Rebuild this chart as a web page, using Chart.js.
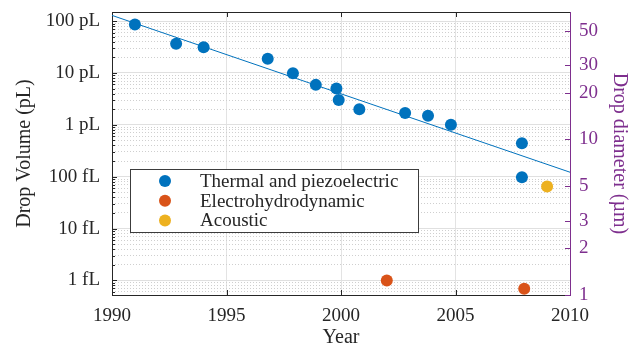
<!DOCTYPE html>
<html>
<head>
<meta charset="utf-8">
<script src="https://cdn.jsdelivr.net/npm/chart.js@4"></script>
<style>
  html, body { margin: 0; padding: 0; background: #fff; }
  #wrap { width: 629px; height: 345px; }
</style>
</head>
<body>
<div id="wrap"><canvas id="myChart"></canvas></div>
<script>
// drop volumes are in fL (1 pL = 1000 fL)
let thermalYears = [1991.0, 1992.8, 1994.0, 1996.8, 1997.9, 1998.9, 1999.8, 1999.9, 2000.8, 2002.8, 2003.8, 2004.8, 2007.9, 2007.9];
let thermalVolumes = [86000, 36600, 31500, 18800, 9900, 5900, 5000, 3000, 2000, 1700, 1500, 1000, 440, 98];
let ehdYears = [2002.0, 2008.0];
let ehdVolumes = [1.0, 0.69];
let acousticYears = [2009.0];
let acousticVolumes = [65];
let trendYears = [1990, 2010];
let trendVolumes = [129000, 122];

let volumeTicks = [1, 10, 100, 1000, 10000, 100000];
let volumeLabels = ['1 fL', '10 fL', '100 fL', '1 pL', '10 pL', '100 pL'];
let diameterTicks = [1, 2, 3, 5, 10, 20, 30, 50];
let yearTicks = [1990, 1995, 2000, 2005, 2010];

const volMin = Math.PI / 6;       // 1 µm drop
const volMax = 150000;            // 150 pL
const diaMax = Math.cbrt(6 * volMax / Math.PI);

const blue = '#0072BD', orange = '#D95319', yellow = '#EDB120';
const purple = '#7E2F8E', dark = '#262626';
const serif = "'Liberation Serif', 'DejaVu Serif', serif";

const pts = (xs, ys) => xs.map((x, i) => ({x: x, y: ys[i]}));

// minor log positions 2..9 per decade
let minorTicks = [];
for (let d = -1; d <= 5; d++) {
    for (let m = 2; m <= 9; m++) {
        let v = m * Math.pow(10, d);
        if (v > volMin && v < volMax) minorTicks.push(v);
    }
}

// no extra room for half tick labels, the axis boxes are sized by hand
const fitV = w => s => { s.width = w; s.paddingTop = 0; s.paddingBottom = 0; };

const innerTicks = {
    id: 'innerTicks',
    afterDatasetsDraw(chart) {
        const {ctx, chartArea: a, scales} = chart;
        const px = v => Math.round(v) + 0.5;
        ctx.save();
        ctx.lineWidth = 1;
        ctx.strokeStyle = dark;
        ctx.beginPath();
        ctx.moveTo(a.left, px(a.top));
        ctx.lineTo(a.right, px(a.top));
        yearTicks.slice(1, -1).forEach(v => {
            let x = px(scales.x.getPixelForValue(v));
            ctx.moveTo(x, a.bottom); ctx.lineTo(x, a.bottom - 5);
            ctx.moveTo(x, a.top); ctx.lineTo(x, a.top + 5);
        });
        volumeTicks.forEach(v => {
            let y = px(scales.y.getPixelForValue(v));
            ctx.moveTo(a.left, y); ctx.lineTo(a.left + 5, y);
        });
        minorTicks.forEach(v => {
            let y = px(scales.y.getPixelForValue(v));
            ctx.moveTo(a.left, y); ctx.lineTo(a.left + 3, y);
        });
        ctx.stroke();
        ctx.strokeStyle = purple;
        ctx.beginPath();
        diameterTicks.forEach(v => {
            let y = px(scales.y2.getPixelForValue(v));
            ctx.moveTo(a.right, y); ctx.lineTo(a.right - 5, y);
        });
        ctx.stroke();
        ctx.restore();
    }
};

const boxLegend = {
    id: 'boxLegend',
    afterDraw(chart) {
        const {ctx, chartArea: a} = chart;
        const left = a.left + 18, top = 169, w = 288, h = 63;
        ctx.save();
        ctx.fillStyle = '#fff';
        ctx.fillRect(left, top, w, h);
        ctx.strokeStyle = '#3c3c3c';
        ctx.lineWidth = 1;
        ctx.strokeRect(left + 0.5, top + 0.5, w, h);
        ctx.font = '19px ' + serif;
        ctx.textBaseline = 'middle';
        chart.data.datasets.filter(ds => ds.inLegend).forEach((ds, i) => {
            let y = top + 12 + i * 19.7;
            ctx.fillStyle = ds.backgroundColor;
            ctx.beginPath();
            ctx.arc(left + 35, y, 6, 0, 2 * Math.PI);
            ctx.fill();
            ctx.fillStyle = dark;
            ctx.fillText(ds.label, left + 70, y + 1);
        });
        ctx.restore();
    }
};

const ctx = document.getElementById('myChart').getContext('2d');
const chart = new Chart(ctx, {
    type: 'scatter',
    data: {
        datasets: [
            {
                type: 'line',
                label: 'trend',
                data: pts(trendYears, trendVolumes),
                borderColor: blue,
                borderWidth: 1,
                pointRadius: 0,
                fill: false,
                yAxisID: 'y',
                order: 5
            },
            {
                label: 'Thermal and piezoelectric',
                inLegend: true,
                data: pts(thermalYears, thermalVolumes),
                backgroundColor: blue,
                borderWidth: 0,
                pointRadius: 6,
                yAxisID: 'y'
            },
            {
                label: 'Electrohydrodynamic',
                inLegend: true,
                data: pts(ehdYears, ehdVolumes),
                backgroundColor: orange,
                borderWidth: 0,
                pointRadius: 6,
                yAxisID: 'y'
            },
            {
                label: 'Acoustic',
                inLegend: true,
                data: pts(acousticYears, acousticVolumes),
                backgroundColor: yellow,
                borderWidth: 0,
                pointRadius: 6,
                yAxisID: 'y'
            }
        ]
    },
    options: {
        responsive: true,
        maintainAspectRatio: false,
        animation: false,
        layout: {padding: {top: 12, left: 0, right: 0, bottom: 0}},
        plugins: {
            legend: {display: false},
            tooltip: {enabled: false}
        },
        scales: {
            x: {
                type: 'linear',
                min: 1990,
                max: 2010,
                afterBuildTicks: s => { s.ticks = yearTicks.map(v => ({value: v})); },
                afterFit: s => { s.height = 50; s.paddingLeft = 0; s.paddingRight = 0; },
                ticks: {
                    color: dark,
                    font: {family: serif, size: 19},
                    padding: 10,
                    maxRotation: 0,
                    callback: v => String(v)
                },
                grid: {color: '#e3e3e3', drawTicks: false},
                border: {color: dark},
                title: {
                    display: true,
                    text: 'Year',
                    color: dark,
                    font: {family: serif, size: 20},
                    padding: {top: 0, bottom: -5}
                }
            },
            y: {
                type: 'logarithmic',
                position: 'left',
                min: volMin,
                max: volMax,
                afterBuildTicks: s => { s.ticks = volumeTicks.map(v => ({value: v})); },
                afterFit: fitV(112),
                ticks: {
                    color: dark,
                    autoSkip: false,
                    font: {family: serif, size: 19},
                    padding: 12,
                    callback: v => volumeLabels[volumeTicks.indexOf(v)]
                },
                grid: {color: '#e0e0e0', drawTicks: false, z: 0},
                border: {color: dark},
                title: {
                    display: true,
                    text: 'Drop Volume (pL)',
                    color: dark,
                    font: {family: serif, size: 20},
                    padding: {top: 13, bottom: 0}
                }
            },
            yMinor: {
                type: 'logarithmic',
                position: 'left',
                min: volMin,
                max: volMax,
                afterBuildTicks: s => { s.ticks = minorTicks.map(v => ({value: v})); },
                afterFit: fitV(0),
                ticks: {display: false},
                grid: {color: '#cfcfcf', drawTicks: false},
                border: {display: false, dash: [1, 2]}
            },
            y2: {
                type: 'logarithmic',
                position: 'right',
                min: 1,
                max: diaMax,
                afterBuildTicks: s => { s.ticks = diameterTicks.map(v => ({value: v})); },
                afterFit: fitV(59),
                ticks: {
                    color: purple,
                    autoSkip: false,
                    font: {family: serif, size: 19},
                    padding: 9,
                    callback: v => String(v)
                },
                grid: {drawOnChartArea: false, drawTicks: false},
                border: {color: purple},
                title: {
                    display: true,
                    text: 'Drop diameter (µm)',
                    color: purple,
                    font: {family: serif, size: 20},
                    padding: {top: -2, bottom: 0}
                }
            }
        }
    },
    plugins: [innerTicks, boxLegend]
});
</script>
</body>
</html>
